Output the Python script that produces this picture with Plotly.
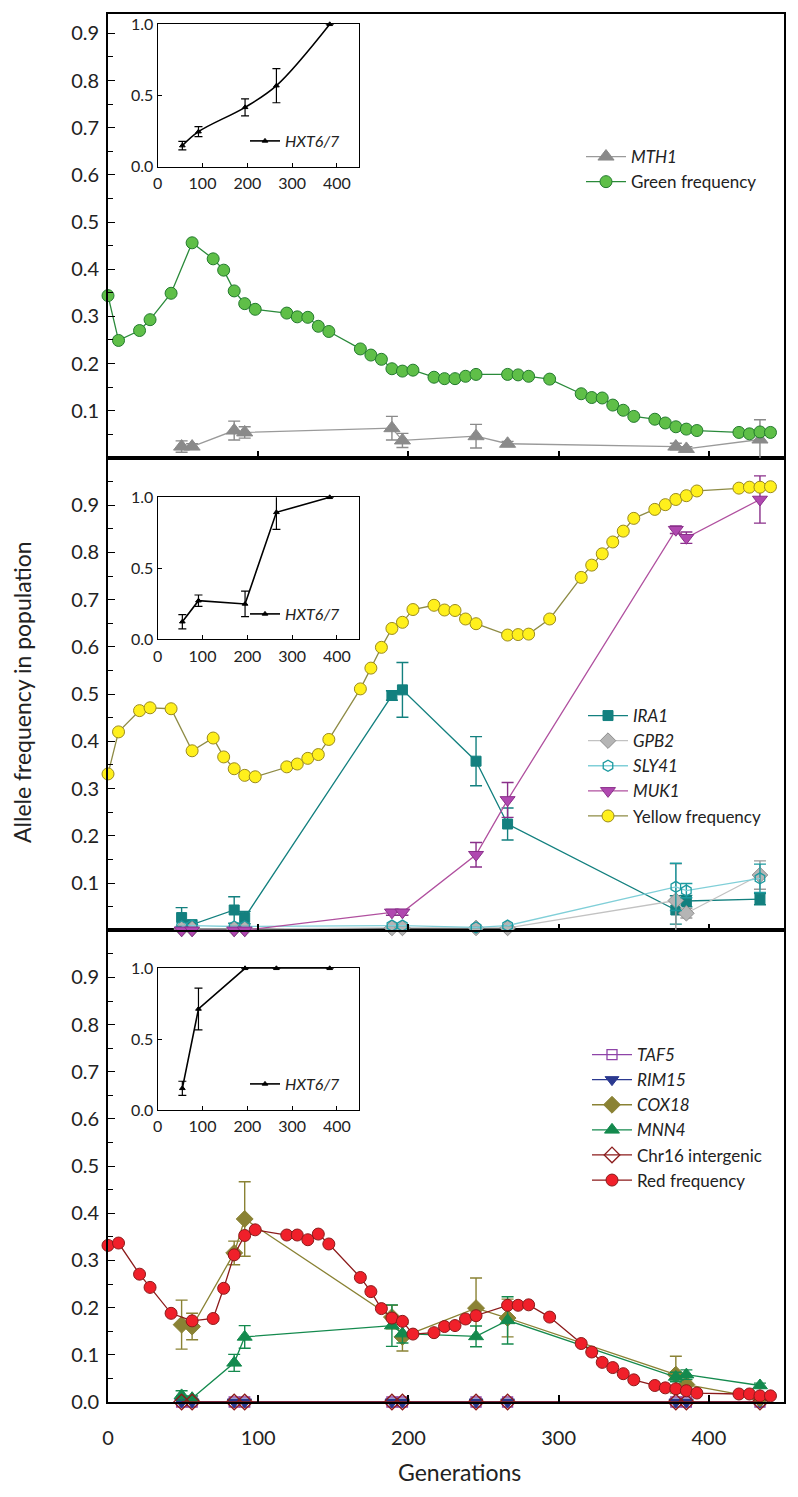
import plotly.graph_objects as go

# ---------------- data ----------------
gen_freq = [0, 7, 21, 28, 42, 56, 70, 77, 84, 91, 98, 119, 126, 133, 140, 147, 168, 175, 182, 189,
            196, 203, 217, 224, 231, 238, 245, 266, 273, 280, 294, 315, 322, 329, 336, 343, 350,
            364, 371, 378, 385, 392, 420, 427, 434, 441]
green_freq = [0.344, 0.249, 0.270, 0.293, 0.349, 0.456, 0.422, 0.398, 0.354, 0.327, 0.315, 0.307,
              0.299, 0.298, 0.279, 0.268, 0.231, 0.218, 0.209, 0.189, 0.184, 0.186, 0.171, 0.168,
              0.168, 0.173, 0.177, 0.177, 0.176, 0.173, 0.167, 0.136, 0.128, 0.127, 0.112, 0.101,
              0.088, 0.082, 0.074, 0.066, 0.061, 0.058, 0.054, 0.051, 0.055, 0.054]
yellow_freq = [0.331, 0.420, 0.465, 0.471, 0.469, 0.380, 0.407, 0.367, 0.342, 0.328, 0.325, 0.346,
               0.352, 0.364, 0.372, 0.404, 0.511, 0.555, 0.599, 0.639, 0.652, 0.679, 0.688, 0.678,
               0.677, 0.659, 0.649, 0.625, 0.626, 0.627, 0.659, 0.747, 0.773, 0.797, 0.822, 0.845,
               0.872, 0.891, 0.901, 0.912, 0.920, 0.930, 0.936, 0.938, 0.938, 0.939]
red_freq = [0.332, 0.337, 0.271, 0.243, 0.188, 0.172, 0.177, 0.241, 0.312, 0.353, 0.365, 0.354,
            0.354, 0.344, 0.356, 0.335, 0.264, 0.234, 0.198, 0.178, 0.171, 0.144, 0.147, 0.160,
            0.162, 0.176, 0.183, 0.205, 0.205, 0.206, 0.180, 0.124, 0.106, 0.084, 0.073, 0.060,
            0.047, 0.035, 0.030, 0.028, 0.024, 0.019, 0.017, 0.017, 0.013, 0.013]

gen_mut = [49, 56, 84, 91, 189, 196, 245, 266, 378, 385, 434]
# top panel
mth1 = [0.024, 0.024, 0.058, 0.054, 0.063, 0.037, 0.046, 0.030, 0.024, 0.019, 0.039]
mth1_err = [0.012, 0.006, 0.020, 0.012, 0.025, 0.015, 0.025, 0.005, 0.007, 0.005, 0.042]
# middle panel
ira1 = [0.027, 0.012, 0.043, 0.027, 0.497, 0.509, 0.358, 0.225, 0.043, 0.062, 0.066]
ira1_err = [0.021, 0.0, 0.028, 0.013, 0.010, 0.058, 0.052, 0.034, 0.030, 0.012, 0.012]
gpb2 = [0.003, 0.003, 0.003, 0.003, 0.005, 0.005, 0.005, 0.005, 0.063, 0.036, 0.117]
gpb2_err = [0, 0, 0, 0, 0, 0, 0, 0, 0.078, 0.010, 0.030]
sly41 = [0.008, 0.010, 0.008, 0.008, 0.010, 0.010, 0.006, 0.010, 0.092, 0.084, 0.110]
sly41_err = [0, 0, 0, 0, 0, 0, 0, 0, 0.050, 0.015, 0.030]
muk1 = [0.0, 0.0, 0.0, 0.0, 0.038, 0.038, 0.160, 0.276, 0.848, 0.831, 0.912]
muk1_err = [0, 0, 0, 0, 0.006, 0.006, 0.026, 0.037, 0.008, 0.012, 0.050]
# bottom panel
taf5 = [0.0] * 11
rim15 = [0.0] * 11
cox18 = [0.164, 0.160, 0.316, 0.388, 0.180, 0.138, 0.199, 0.178, 0.058, 0.037, 0.008]
cox18_err = [0.052, 0.028, 0.025, 0.079, 0.025, 0.030, 0.064, 0.040, 0.039, 0.010, 0.0]
mnn4 = [0.014, 0.008, 0.083, 0.138, 0.162, 0.145, 0.139, 0.173, 0.053, 0.058, 0.035]
mnn4_err = [0.010, 0.005, 0.018, 0.024, 0.044, 0.020, 0.022, 0.050, 0.010, 0.010, 0.005]
chr16 = [0.0] * 11

# insets: HXT6/7
gen_hxt = [55, 91, 195, 265, 384]
hxt_green = [0.148, 0.246, 0.417, 0.569, 1.0]
hxt_green_err = [0.030, 0.035, 0.060, 0.120, 0.0]
hxt_yellow = [0.124, 0.272, 0.249, 0.894, 1.0]
hxt_yellow_err = [0.050, 0.040, 0.090, 0.120, 0.0]
hxt_red = [0.153, 0.713, 1.0, 1.0, 1.0]
hxt_red_err = [0.050, 0.147, 0.0, 0.0, 0.0]

main_ticks_top = [0.1, 0.2, 0.3, 0.4, 0.5, 0.6, 0.7, 0.8, 0.9]
main_ticks_bottom = [0.0, 0.1, 0.2, 0.3, 0.4, 0.5, 0.6, 0.7, 0.8, 0.9]
minor_ticks = [0.05, 0.15, 0.25, 0.35, 0.45, 0.55, 0.65, 0.75, 0.85, 0.95]
x_ticks = [0, 100, 200, 300, 400]
inset_yticks = [0.0, 0.5, 1.0]

FONT = "Lato"
# page body has an 8px default margin; figure is sized so page coords match reference
OFF = 8
PLOT_L, PLOT_R, PLOT_T, PLOT_B = 108, 784, 14, 1402   # absolute page pixels
W, H = 780, 1478
ML = PLOT_L - OFF
MT = PLOT_T - OFF
PW = PLOT_R - PLOT_L
PH = PLOT_B - PLOT_T
MR = W - ML - PW
MB = H - MT - PH


def px_x(p):
    return (p - PLOT_L) / PW


def px_y(p):
    return (PLOT_B - p) / PH


fig = go.Figure()


def add(x, y, name, xa, ya, legend, symbol, size, mcolor, lcolor, mline=None, err=None,
        ecolor=None, showlegend=True, shape="linear", lw=1.3, mlw=1.0):
    kw = {}
    if err is not None:
        kw["error_y"] = dict(type="data", array=err, symmetric=True, visible=True,
                             color=ecolor or lcolor, thickness=1.4, width=6)
    fig.add_trace(go.Scatter(
        x=x, y=y, name=name, mode="lines+markers", xaxis=xa, yaxis=ya, legend=legend,
        showlegend=showlegend, cliponaxis=False,
        line=dict(color=lcolor, width=lw, shape=shape),
        marker=dict(symbol=symbol, size=size, color=mcolor,
                    line=dict(color=mline or lcolor, width=mlw)),
        **kw))


# ----- top panel (x3/y3) -----
add(gen_mut, mth1, "<i>MTH1</i>", "x3", "y3", "legend", "triangle-up", 14, "#8a8a8a", "#9a9a9a",
    mline="#8a8a8a", err=mth1_err, ecolor="#8a8a8a")
add(gen_freq, green_freq, "Green frequency", "x3", "y3", "legend", "circle", 12, "#5fbf48",
    "#2a8a3a", mline="#237a2e")

# ----- middle panel (x2/y2) -----
add(gen_mut, ira1, "<i>IRA1</i>", "x2", "y2", "legend2", "square", 10, "#13807f", "#13807f",
    err=ira1_err, ecolor="#13807f")
add(gen_mut, gpb2, "<i>GPB2</i>", "x2", "y2", "legend2", "diamond", 12, "#b5b5b5", "#c2c2c2",
    mline="#8e8e8e", err=gpb2_err, ecolor="#9a9a9a")
add(gen_mut, sly41, "<i>SLY41</i>", "x2", "y2", "legend2", "hexagon-open", 11, "#1c9aa0", "#80cfd8",
    mline="#1c9aa0", err=sly41_err, ecolor="#1c9aa0", mlw=1.3)
add(gen_mut, muk1, "<i>MUK1</i>", "x2", "y2", "legend2", "triangle-down", 13, "#b048b0", "#b0509f",
    mline="#8a2f8a", err=muk1_err, ecolor="#8a2f8a")
add(gen_freq, yellow_freq, "Yellow frequency", "x2", "y2", "legend2", "circle", 12, "#fff01c",
    "#8e8b45", mline="#9a8a1e")

# ----- bottom panel (x/y) -----
add(gen_mut, taf5, "<i>TAF5</i>", "x", "y", "legend3", "square-open", 10, "#8e44a8", "#8e44a8",
    mlw=1.3)
add(gen_mut, rim15, "<i>RIM15</i>", "x", "y", "legend3", "triangle-down", 12, "#2b3990", "#2b3990")
add(gen_mut, cox18, "<i>COX18</i>", "x", "y", "legend3", "diamond", 13, "#8a8234", "#8a8234",
    err=cox18_err)
add(gen_mut, mnn4, "<i>MNN4</i>", "x", "y", "legend3", "triangle-up", 13, "#148a4e", "#148a4e",
    err=mnn4_err)
add(gen_mut, chr16, "Chr16 intergenic", "x", "y", "legend3", "diamond-open", 12, "#8b1b1b",
    "#8b1b1b", mlw=1.3)
add(gen_freq, red_freq, "Red frequency", "x", "y", "legend3", "circle", 12, "#f0202a", "#8b1a1a",
    mline="#8b1a1a")

# ----- insets -----
add(gen_hxt, hxt_green, "<i>HXT6/7</i>", "x4", "y4", "legend4", "triangle-up", 5, "black", "black",
    err=hxt_green_err, shape="spline", lw=1.6)
add(gen_hxt, hxt_yellow, "<i>HXT6/7</i>", "x5", "y5", "legend5", "triangle-up", 5, "black", "black",
    err=hxt_yellow_err, lw=1.6)
add(gen_hxt, hxt_red, "<i>HXT6/7</i>", "x6", "y6", "legend6", "triangle-up", 5, "black", "black",
    err=hxt_red_err, lw=1.6)
for tr in fig.data[-3:]:
    tr.error_y.thickness = 1.2
    tr.error_y.width = 4

# ----- axes -----
d_bot = [0, px_y(930.3)]
d_mid = [px_y(930.3), px_y(457.9)]
d_top = [px_y(457.9), 1.0]

frame = dict(showline=True, linecolor="black", linewidth=1.6, mirror=True, showgrid=False,
             zeroline=False, automargin=False)
tickfont = dict(family=FONT, size=20, color="#222")


def xmain(show_labels):
    return dict(frame, range=[0, 450], tickvals=x_ticks, ticks="inside", ticklen=7,
                tickcolor="black", tickwidth=1.5, showticklabels=show_labels, tickfont=tickfont,
                ticklabelstandoff=17)


def ymain(domain, top, tickvals):
    return dict(frame, domain=domain, range=[0, top], tickvals=tickvals,
                ticktext=[f"{v:.1f}" for v in tickvals], ticks="inside", ticklen=7,
                tickcolor="black", tickwidth=1.3, tickfont=tickfont, ticklabelstandoff=3,
                minor=dict(tickvals=minor_ticks, ticks="inside", ticklen=5, tickcolor="black",
                           tickwidth=1.2))


inset_font = dict(family=FONT, size=16, color="#222")
ix = [px_x(157.7), px_x(359.3)]


def xin(anchor):
    return dict(frame, linewidth=1.3, domain=ix, anchor=anchor, range=[0, 450], tickvals=x_ticks,
                ticks="inside", ticklen=4, tickcolor="black", tickfont=inset_font,
                ticklabelstandoff=2)


def yin(anchor, top_px, bot_px):
    return dict(frame, linewidth=1.3, domain=[px_y(bot_px), px_y(top_px)], anchor=anchor,
                range=[0, 1.0], tickvals=inset_yticks, ticktext=["0.0", "0.5", "1.0"],
                ticks="inside", ticklen=4, tickcolor="black", tickfont=inset_font,
                ticklabelstandoff=0)


leg = dict(bgcolor="rgba(0,0,0,0)", borderwidth=0, font=dict(family=FONT, size=17, color="#222"),
           xanchor="left", yanchor="top", tracegroupgap=0, itemwidth=40)
leg_in = dict(bgcolor="rgba(0,0,0,0)", borderwidth=0, font=dict(family=FONT, size=16, color="#222"),
              xanchor="left", yanchor="middle", itemwidth=30)

fig.update_layout(
    width=W, height=H, margin=dict(l=ML, r=MR, t=MT, b=MB, autoexpand=False),
    paper_bgcolor="white", plot_bgcolor="rgba(0,0,0,0)",
    font=dict(family=FONT, color="#222"),
    xaxis=dict(xmain(True), anchor="y"),
    yaxis=ymain(d_bot, 1.0, main_ticks_bottom),
    xaxis2=dict(xmain(False), anchor="y2", matches="x"),
    yaxis2=ymain(d_mid, 1.0, main_ticks_top),
    xaxis3=dict(xmain(False), anchor="y3", matches="x"),
    yaxis3=ymain(d_top, 0.941, main_ticks_top),
    xaxis4=xin("y4"), yaxis4=yin("x4", 24.3, 166.7),
    xaxis5=xin("y5"), yaxis5=yin("x5", 497.3, 639.3),
    xaxis6=xin("y6"), yaxis6=yin("x6", 968.3, 1110.0),
    legend=dict(leg, x=px_x(581), y=px_y(139)),
    legend2=dict(leg, x=px_x(583), y=px_y(698)),
    legend3=dict(leg, x=px_x(587), y=px_y(1037)),
    legend4=dict(leg_in, x=px_x(245), y=px_y(141)),
    legend5=dict(leg_in, x=px_x(245), y=px_y(614)),
    legend6=dict(leg_in, x=px_x(245), y=px_y(1084)),
    showlegend=True,
)

fig.add_annotation(text="Allele frequency in population", xref="paper", yref="paper",
                   x=px_x(22), y=px_y(692), xanchor="center", yanchor="middle", textangle=-90,
                   showarrow=False, font=dict(family=FONT, size=23, color="#222"))
fig.add_annotation(text="Generations", xref="paper", yref="paper", x=px_x(459), y=px_y(1472),
                   xanchor="center", yanchor="middle", showarrow=False,
                   font=dict(family=FONT, size=23, color="#222"))

fig.write_html("out.html")
